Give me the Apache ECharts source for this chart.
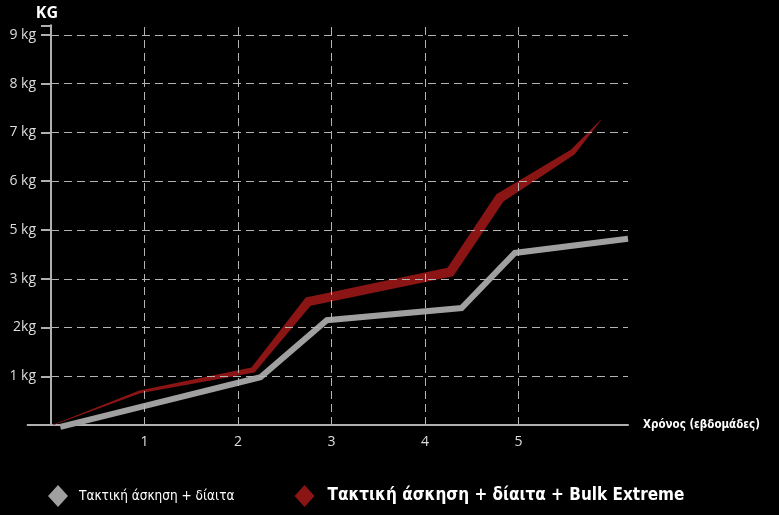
<!DOCTYPE html>
<html>
<head>
<meta charset="utf-8">
<script src="https://cdn.jsdelivr.net/npm/echarts@6/dist/echarts.min.js"></script>
<style>
html,body{margin:0;padding:0;background:#000;}
#chart{width:779px;height:515px;}
</style>
</head>
<body>
<div id="chart"></div>
<script>
// ---- data ----
var yTickValues = [1, 2, 3, 4, 5, 6, 7, 8];
var yTickLabels = ['1 kg', '2kg', '3 kg', '5 kg', '6 kg', '7 kg', '8 kg', '9 kg'];
var xTickValues = [1, 2, 3, 4, 5];
var seriesNames = ['Τακτική άσκηση + δίαιτα', 'Τακτική άσκηση + δίαιτα + Bulk Extreme'];
var grayX = [0.10, 2.24, 2.95, 4.39, 4.96, 6.17];
var grayY = [-0.04, 0.98, 2.15, 2.40, 3.53, 3.82];
var redX = [0.02, 0.95, 2.16, 2.75, 4.27, 4.80, 5.58, 5.88];
var redY = [0.00, 0.68, 1.13, 2.53, 3.14, 4.66, 5.60, 6.26];

// ---- styles ----
var redWidth = [0.8, 3, 5.5, 9, 9.5, 10, 6, 0.6];
var grayColor = '#a0a0a0';
var redColor = '#8b1515';
var gridColor = '#b4b4b4';
var axisColor = '#b0b0b0';
var narrow = "'Liberation Sans Narrow', 'Arial Narrow', 'DejaVu Sans Condensed', sans-serif";
var X_MIN = -0.25, X_MAX = 6.17, Y_MAX = 8.2;
var GRID_LEFT = 27.6, GRID_RIGHT = 151;
var PX_PER_X = (779 - GRID_LEFT - GRID_RIGHT) / (X_MAX - X_MIN);

var chart = echarts.init(document.getElementById('chart'));

var hLines = yTickValues.map(function (v) { return [{ coord: [0, v] }, { coord: [X_MAX, v] }]; });
var vLines = xTickValues.map(function (v) { return [{ coord: [v, 0] }, { coord: [v, Y_MAX] }]; });

function isInt(v) { return Math.abs(v - Math.round(v)) < 1e-6; }

var option = {
  backgroundColor: '#000',
  animation: false,
  grid: { left: GRID_LEFT, right: GRID_RIGHT, top: 25.25, bottom: 90, containLabel: false, outerBoundsMode: 'none' },
  xAxis: {
    type: 'value',
    min: X_MIN, max: X_MAX, interval: 0.25,
    name: 'Χρόνος (εβδομάδες)',
    nameLocation: 'end', nameGap: 15,
    nameTextStyle: { color: '#fff', fontFamily: narrow, fontSize: 11.5, fontWeight: 'bold', verticalAlign: 'middle' },
    axisLine: { show: true, onZero: false, lineStyle: { color: axisColor, width: 2 } },
    axisTick: { show: false },
    splitLine: { show: false },
    axisLabel: {
      color: '#ddd', fontFamily: 'Open Sans', fontSize: 14, margin: 10,
      formatter: function (v) { return (isInt(v) && xTickValues.indexOf(Math.round(v)) >= 0) ? String(Math.round(v)) : ''; }
    }
  },
  yAxis: {
    type: 'value',
    min: 0, max: Y_MAX, interval: 1,
    offset: -(0 - X_MIN) * PX_PER_X,
    name: 'KG', nameLocation: 'end', nameGap: 4,
    nameTextStyle: { color: '#fff', fontFamily: 'Open Sans', fontSize: 16, fontWeight: 'bold', align: 'center', padding: [0, 8, 0, 0] },
    axisLine: { show: true, onZero: false, lineStyle: { color: axisColor, width: 2 } },
    axisTick: { show: true, length: 10, lineStyle: { color: axisColor, width: 2 } },
    splitLine: { show: false },
    axisLabel: {
      color: '#ddd', fontFamily: 'Open Sans', fontSize: 14, margin: 15,
      formatter: function (v) {
        if (!isInt(v)) return '';
        var i = yTickValues.indexOf(Math.round(v));
        return i >= 0 ? yTickLabels[i] : '';
      }
    }
  },
  legend: {
    left: 43, top: 480,
    itemWidth: 20, itemHeight: 22, itemGap: 60,
    data: [
      { name: seriesNames[0], icon: 'diamond', itemStyle: { color: grayColor },
        textStyle: { color: '#fff', fontFamily: narrow, fontSize: 13.5, padding: [0, 0, 0, 6] } },
      { name: seriesNames[1], icon: 'diamond', itemStyle: { color: redColor },
        textStyle: { color: '#fff', fontFamily: narrow, fontSize: 17, fontWeight: 'bold', padding: [0, 0, 0, 8] } }
    ],
    selectedMode: false
  },
  series: [
    {
      name: '_grid', type: 'line', data: [], z: 1, silent: true,
      markLine: {
        silent: true, symbol: 'none', label: { show: false },
        lineStyle: { color: gridColor, width: 1, type: [8, 5] },
        data: hLines.concat(vLines)
      }
    },
    {
      name: seriesNames[0], type: 'line', z: 3, clip: false,
      data: grayX.map(function (x, i) { return [x, grayY[i]]; }),
      symbol: 'none', color: grayColor,
      lineStyle: { color: grayColor, width: 6, cap: 'butt', join: 'miter' }
    },
    {
      name: seriesNames[1], type: 'custom', z: 4, clip: false,
      itemStyle: { color: redColor },
      data: redX.map(function (x, i) { return [x, redY[i]]; }),
      encode: { x: 0, y: 1 },
      renderItem: function (params, api) {
        if (params.dataIndex !== 0) return null;
        var pts = redX.map(function (x, i) { return api.coord([x, redY[i]]); });
        var upper = [], lower = [];
        for (var i = 0; i < pts.length; i++) {
          var n0 = null, n1 = null, dx, dy, l;
          if (i > 0) { dx = pts[i][0] - pts[i - 1][0]; dy = pts[i][1] - pts[i - 1][1]; l = Math.hypot(dx, dy); n0 = [-dy / l, dx / l]; }
          if (i < pts.length - 1) { dx = pts[i + 1][0] - pts[i][0]; dy = pts[i + 1][1] - pts[i][1]; l = Math.hypot(dx, dy); n1 = [-dy / l, dx / l]; }
          var n = (n0 && n1) ? [n0[0] + n1[0], n0[1] + n1[1]] : (n0 || n1);
          var nl = Math.hypot(n[0], n[1]); n = [n[0] / nl, n[1] / nl];
          var ref = n1 || n0;
          var c = n[0] * ref[0] + n[1] * ref[1];
          var h = redWidth[i] / 2 / Math.max(c, 0.4);
          upper.push([pts[i][0] + n[0] * h, pts[i][1] + n[1] * h]);
          lower.push([pts[i][0] - n[0] * h, pts[i][1] - n[1] * h]);
        }
        return { type: 'polygon', shape: { points: upper.concat(lower.reverse()) }, style: { fill: redColor } };
      }
    }
  ]
};
chart.setOption(option);

// axis cap line at the top of the y-axis
var top = chart.convertToPixel({ xAxisIndex: 0, yAxisIndex: 0 }, [0, Y_MAX]);
chart.setOption({
  graphic: [{
    type: 'line', silent: true, z: 10,
    shape: { x1: top[0] - 17, y1: top[1], x2: top[0] + 17, y2: top[1] },
    style: { stroke: axisColor, lineWidth: 2 }
  }]
});
</script>
</body>
</html>
